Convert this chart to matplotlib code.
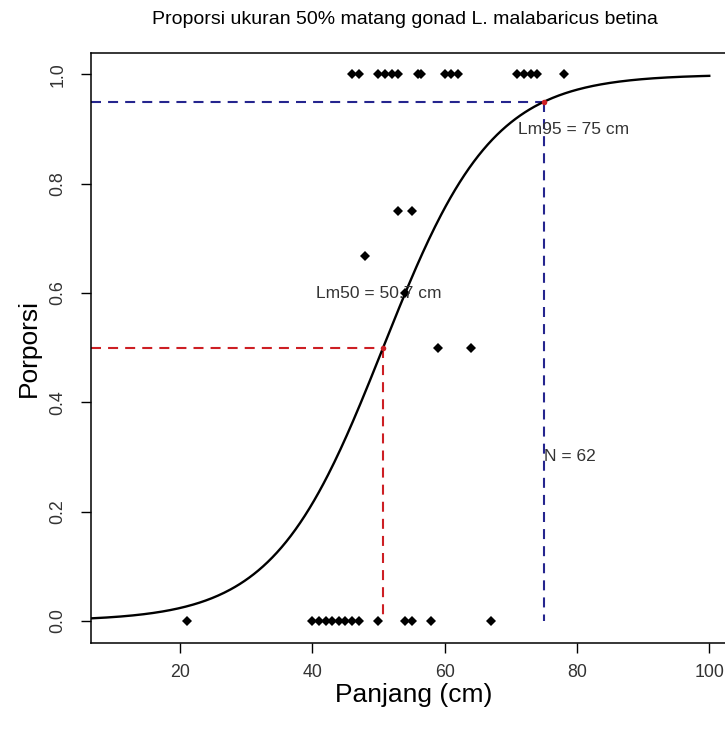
"""
Kurva logistik proporsi matang gonad (L. malabaricus betina)
"""
import numpy as np
import matplotlib
matplotlib.use('Agg')
import matplotlib.pyplot as plt

plt.rcParams['font.family'] = ['Liberation Sans', 'DejaVu Sans']

# data pengamatan (panjang cm, proporsi matang)
panjang_matang = [46, 47, 50, 51, 52, 53, 56, 56.5, 60, 61, 62, 71, 72, 73, 74, 78]
panjang_tengah = [53, 55, 48, 54, 59, 64]
proporsi_tengah = [0.75, 0.75, 0.667, 0.6, 0.5, 0.5]
panjang_muda = [21, 40, 41, 42, 43, 44, 45, 46, 47, 50, 54, 55, 58, 67]

# parameter kurva
lm50 = 50.7
lm95 = 75
n_sampel = 62
x_ticks = [20, 40, 60, 80, 100]
y_ticks = [0.0, 0.2, 0.4, 0.6, 0.8, 1.0]

r = np.log(19) / (lm95 - lm50)
xlim = (6.55, 104.0)
px_per_cm = 6.616

fig = plt.figure(figsize=(7.25, 7.33), dpi=100)
ax = fig.add_axes([91 / 725, (733 - 642.8) / 733,
                   (xlim[1] - xlim[0]) * px_per_cm / 725, 590.2 / 733])

# kurva logistik
xs = np.linspace(xlim[0], 100, 400)
ax.plot(xs, 1 / (1 + np.exp(-r * (xs - lm50))), color='black', lw=1.7, zorder=3)

# titik data
ax.plot(panjang_matang, np.ones(len(panjang_matang)), 'D', color='black', ms=4.8, mew=0)
ax.plot(panjang_tengah, proporsi_tengah, 'D', color='black', ms=4.8, mew=0)
ax.plot(panjang_muda, np.zeros(len(panjang_muda)), 'D', color='black', ms=4.8, mew=0)

# garis Lm50 dan Lm95
merah = '#cd1f24'
biru = '#25258e'
garis = dict(lw=1.5, dashes=(4.8, 3.4))
ax.plot([xlim[0], lm50], [0.5, 0.5], color=merah, **garis)
ax.plot([lm50, lm50], [0.5, 0], color=merah, **garis)
ax.plot([xlim[0], lm95], [0.95, 0.95], color=biru, **garis)
ax.plot([lm95, lm95], [0.95, 0], color=biru, **garis)
ax.plot([lm50, lm95], [0.5, 0.95], 'o', color=merah, ms=4, mew=0, zorder=4)

ax.text(50, 0.6, f'Lm50 = {lm50} cm', fontsize=12.5, color='#333333', ha='center', va='center')
ax.text(79.5, 0.9, f'Lm95 = {lm95} cm', fontsize=12.5, color='#333333', ha='center', va='center')
ax.text(79, 0.3, f'N = {n_sampel}', fontsize=12.5, color='#333333', ha='center', va='center')

ax.set_xlim(*xlim)
ax.set_ylim(-0.04, 1.04)
ax.set_xticks(x_ticks)
ax.set_yticks(y_ticks)
ax.set_xticklabels([str(t) for t in x_ticks])
ax.set_yticklabels([f'{t:.1f}' for t in y_ticks])
ax.tick_params(axis='both', length=7.5, width=1, labelsize=12.8, labelcolor='#333333')
ax.tick_params(axis='x', pad=8)
ax.tick_params(axis='y', pad=10, labelrotation=90)
for lab in ax.get_yticklabels():
    lab.set_va('center')
for s in ax.spines.values():
    s.set_linewidth(1.1)

ax.set_xlabel('Panjang (cm)', fontsize=19, labelpad=1)
ax.set_ylabel('Porporsi', fontsize=19, labelpad=6)
fig.text(405 / 725, 1 - 20 / 733, 'Proporsi ukuran 50% matang gonad L. malabaricus betina',
         fontsize=14, ha='center', va='center')

fig.savefig('out.png', dpi=100)
